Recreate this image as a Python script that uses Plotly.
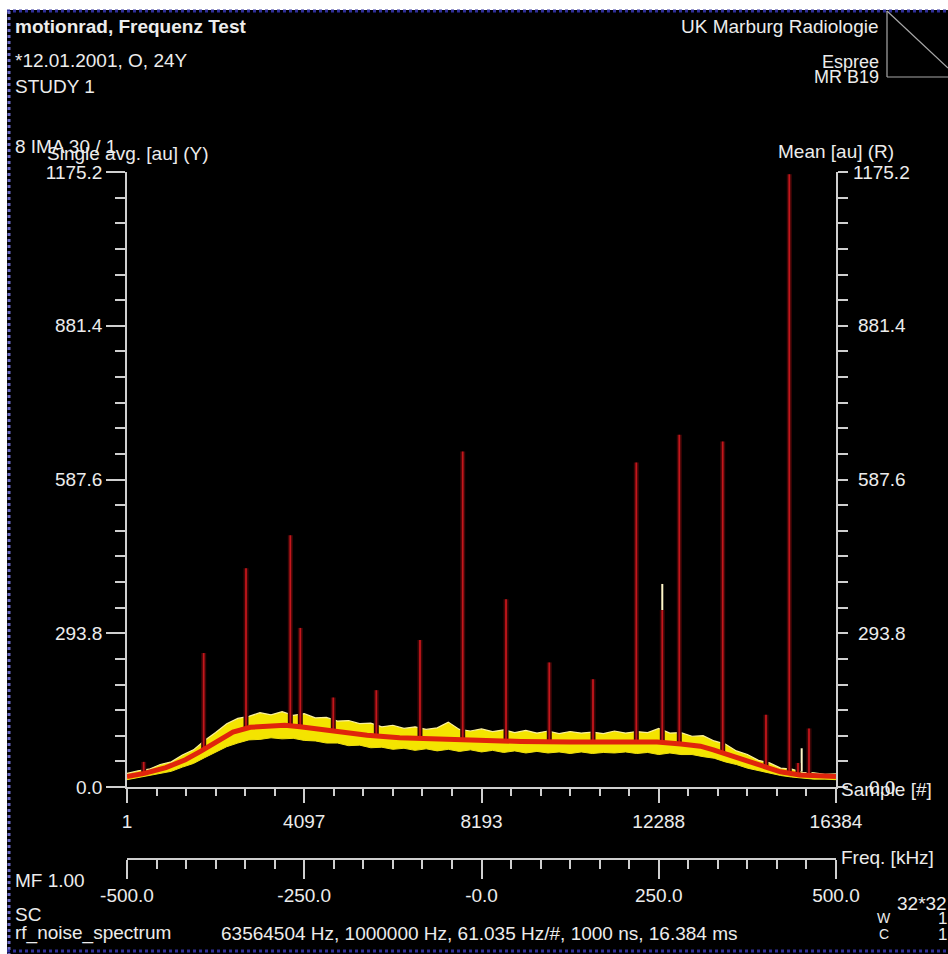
import plotly.graph_objects as go

# ---------------- data ----------------
sample_ticks = [1, 4097, 8193, 12288, 16384]
sample_labels = ["1", "4097", "8193", "12288", "16384"]
freq_ticks = [-500, -250, 0, 250, 500]
freq_labels = ["-500.0", "-250.0", "-0.0", "250.0", "500.0"]
y_ticks = [0, 293.8, 587.6, 881.4, 1175.2]
y_labels = ["0.0", "293.8", "587.6", "881.4", "1175.2"]

# mean (R) curve
curve_sample = [1, 400, 900, 1350, 1700, 2050, 2450, 2850, 3250, 3650, 4000, 4750,
                5550, 6300, 7000, 7300, 7600, 7900, 9100, 10250, 11400, 12250,
                12800, 13250, 13550, 13950, 14350, 14750, 15100, 15550, 15900, 16384]
mean_values = [20, 26, 37, 52, 68, 86, 105, 114, 117, 118, 115, 107,
               99, 94, 92, 92, 91, 90, 87, 86, 86, 86,
               82, 78, 71, 60, 48, 37, 29, 23, 21, 20]

# single average (Y) band, read every 256 samples
band_sample = [1, 257, 513, 769, 1025, 1281, 1537, 1793, 2049, 2305, 2561, 2817, 3073,
               3329, 3585, 3841, 4097, 4353, 4609, 4865, 5121, 5377, 5633, 5889, 6145,
               6401, 6657, 6913, 7169, 7425, 7681, 7937, 8193, 8449, 8705, 8961, 9217,
               9473, 9729, 9985, 10241, 10497, 10753, 11009, 11265, 11521, 11777, 12033,
               12289, 12545, 12801, 13057, 13313, 13569, 13825, 14081, 14337, 14593,
               14849, 15105, 15361, 15617, 15873, 16129, 16384]
single_upper = [26, 31, 34, 43, 48, 61, 71, 89, 104, 121, 131, 135, 142,
                138, 144, 137, 140, 132, 133, 126, 127, 121, 122, 115, 118,
                112, 115, 110, 113, 124, 110, 107, 111, 106, 109, 104, 108,
                103, 107, 102, 106, 103, 105, 102, 107, 103, 106, 104,
                112, 103, 104, 97, 98, 88, 82, 69, 62, 51,
                46, 36, 34, 28, 27, 24, 25]
single_lower = [14, 18, 21, 26, 30, 38, 45, 56, 67, 77, 84, 90, 91,
                94, 92, 93, 89, 88, 84, 84, 79, 80, 75, 76, 72,
                74, 70, 73, 69, 72, 68, 71, 67, 70, 66, 69, 65,
                68, 65, 67, 64, 67, 64, 66, 65, 67, 64, 66,
                62, 65, 62, 62, 58, 55, 48, 43, 36, 31,
                26, 22, 19, 17, 15, 15, 14]

# interference lines in the mean
spike_sample = [387, 1773, 2751, 3775, 4006, 4768, 5762, 6771, 7758, 8759, 9759,
                10769, 11770, 12370, 12763, 13766, 14766, 15305, 15506, 15760]
spike_top = [48, 256, 418, 481, 304, 171, 185, 281, 641, 359, 238,
             206, 620, 338, 673, 660, 138, 1171, 46, 112]
spike_base = [26, 72, 112, 118, 115, 107, 98, 93, 90, 88, 86,
              86, 86, 86, 82, 65, 37, 26, 23, 22]

# peaks in the single average
single_spike_sample = [12370, 15591]
single_spike_top = [388, 74]
single_spike_base = [106, 30]

# ---------------- geometry helpers ----------------
W, H = 948, 954
L, R, T, B = 127, 836, 172, 859   # paper area in pixels
Y0 = 787                          # pixel row of y = 0


def px(x, y):
    return (x - L) / (R - L), (B - y) / (B - T)


TXT = "#ececec"
AX = "#cfcfcf"
FONT = "Liberation Sans, Arial, sans-serif"

fig = go.Figure()

# yellow single-average band (left axis)
fig.add_trace(go.Scatter(x=band_sample, y=single_lower, mode="lines",
                         line=dict(color="#f0e010", width=1), hoverinfo="skip",
                         xaxis="x", yaxis="y"))
fig.add_trace(go.Scatter(x=band_sample, y=single_upper, mode="lines", fill="tonexty",
                         fillcolor="#f4e400", line=dict(color="#fbf09a", width=1.2),
                         hoverinfo="skip", xaxis="x", yaxis="y"))

ys_x, ys_y = [], []
for s, b, t in zip(single_spike_sample, single_spike_base, single_spike_top):
    ys_x += [s, s, None]
    ys_y += [b, t, None]
fig.add_trace(go.Scatter(x=ys_x, y=ys_y, mode="lines", line=dict(color="#fff6c8", width=2),
                         hoverinfo="skip", xaxis="x", yaxis="y"))

# red mean (right axis)
sp_x, sp_y = [], []
for s, b, t in zip(spike_sample, spike_base, spike_top):
    sp_x += [s, s, None]
    sp_y += [b, t, None]
fig.add_trace(go.Scatter(x=sp_x, y=sp_y, mode="lines", line=dict(color="#3c0606", width=5),
                         hoverinfo="skip", xaxis="x", yaxis="y2"))
fig.add_trace(go.Scatter(x=sp_x, y=sp_y, mode="lines", line=dict(color="#c4161c", width=1.8),
                         hoverinfo="skip", xaxis="x", yaxis="y2"))
fig.add_trace(go.Scatter(x=curve_sample, y=mean_values, mode="lines",
                         line=dict(color="#e0240c", width=5), hoverinfo="skip",
                         xaxis="x", yaxis="y2"))

# helper trace so the frequency axis is drawn
fig.add_trace(go.Scatter(x=freq_ticks, y=[None] * len(freq_ticks), mode="markers",
                         marker=dict(opacity=0), hoverinfo="skip", xaxis="x2", yaxis="y"))

ydom0 = (B - Y0) / (B - T)
axis_common = dict(showgrid=False, zeroline=False, showline=True, linecolor=AX, linewidth=1.5,
                   ticks="outside", tickcolor=AX, tickwidth=1.5,
                   tickfont=dict(family=FONT, size=19, color=TXT), fixedrange=True)

fig.update_layout(
    width=W, height=H,
    margin=dict(l=L, r=W - R, t=T, b=H - B, pad=0),
    paper_bgcolor="black", plot_bgcolor="black",
    showlegend=False,
    font=dict(family=FONT, size=19, color=TXT),
    xaxis=dict(axis_common, range=[1, 16384], tickvals=sample_ticks, ticktext=sample_labels,
               ticklen=14, anchor="y", ticklabelstandoff=2,
               minor=dict(tick0=1, dtick=16383 / 24, ticklen=7, tickcolor=AX, tickwidth=1.5,
                          ticks="outside", showgrid=False)),
    xaxis2=dict(axis_common, range=[-500, 500], tickvals=freq_ticks, ticktext=freq_labels,
                ticklen=19, overlaying="x", anchor="free", position=0, side="bottom",
                minor=dict(tick0=-500, dtick=1000 / 24, ticklen=9, tickcolor=AX, tickwidth=1.5,
                           ticks="outside", showgrid=False)),
    yaxis=dict(axis_common, range=[0, 1175.2], tickvals=y_ticks, ticktext=y_labels,
               ticklen=19, domain=[ydom0, 1], anchor="x",
               minor=dict(tick0=0, dtick=293.8 / 6, ticklen=10, tickcolor=AX, tickwidth=1.5,
                          ticks="outside", showgrid=False)),
    yaxis2=dict(axis_common, range=[0, 1175.2], tickvals=y_ticks, showticklabels=False,
                ticklen=10, overlaying="y", side="right", anchor="x",
                minor=dict(tick0=0, dtick=293.8 / 6, ticklen=10, tickcolor=AX, tickwidth=1.5,
                           ticks="outside", showgrid=False)),
)

annotations = []


def text(t, x, y, anchor="left", size=19, bold=False, color=TXT):
    xp, yp = px(x, y)
    annotations.append(dict(text=("<b>%s</b>" % t) if bold else t, x=xp, y=yp,
                            xref="paper", yref="paper", xanchor=anchor, yanchor="middle",
                            showarrow=False, font=dict(family=FONT, size=size, color=color)))


text("motionrad, Frequenz Test", 13, 26, bold=True)
text("*12.01.2001, O, 24Y", 13, 61)
text("STUDY 1", 13, 86)
text("8 IMA 30 / 1", 13, 146)
text("Single avg. [au] (Y)", 45, 154)
text("UK Marburg Radiologie", 881, 27, anchor="right")
text("Espree", 881, 62, anchor="right", size=18)
text("MR B19", 881, 77, anchor="right", size=18)
text("Mean [au] (R)", 896, 151, anchor="right")
for v, lab in zip(y_ticks, y_labels):
    ypix = Y0 - v / 1175.2 * (Y0 - T)
    text(lab, 882, ypix, anchor="center")
text("Sample [#]", 839, 789)
text("Freq. [kHz]", 839, 857)
text("MF 1.00", 13, 880)
text("SC", 13, 914)
text("rf_noise_spectrum", 13, 933)
text("63564504 Hz, 1000000 Hz, 61.035 Hz/#, 1000 ns, 16.384 ms", 219, 933)
text("32*32", 949, 903, anchor="right")
text("W", 884, 918, anchor="center", size=14)
text("C", 884, 934, anchor="center", size=14)
text("1", 949, 918, anchor="right", size=17)
text("1", 949, 934, anchor="right", size=17)

fig.update_layout(annotations=annotations)

shapes = []


def rect(x0, y0, x1, y1, color):
    a = px(x0, y0)
    b = px(x1, y1)
    shapes.append(dict(type="rect", xref="paper", yref="paper", x0=a[0], y0=a[1], x1=b[0], y1=b[1],
                       fillcolor=color, line=dict(width=0), layer="above"))


def seg(x0, y0, x1, y1, color, width=1.5, dash="solid"):
    a = px(x0, y0)
    b = px(x1, y1)
    shapes.append(dict(type="line", xref="paper", yref="paper", x0=a[0], y0=a[1], x1=b[0], y1=b[1],
                       line=dict(color=color, width=width, dash=dash), layer="above"))


rect(0, 0, W, 10, "white")
rect(0, 0, 7, H, "white")
seg(7, 11, W, 11, "#30309a", 3, "dot")
seg(9, 11, 9, H, "#6a6ac8", 3, "dot")
seg(7, 951, W, 951, "#30309a", 3, "dot")
seg(887, 11, 887, 77, "#a8a8a8", 1.2)
seg(887, 77, W, 77, "#a8a8a8", 1.2)
seg(887, 11, W, 68, "#a8a8a8", 1.2)
fig.update_layout(shapes=shapes)

fig.write_html("out.html", config={"displayModeBar": False},
               post_script="document.body.style.margin='0';")
